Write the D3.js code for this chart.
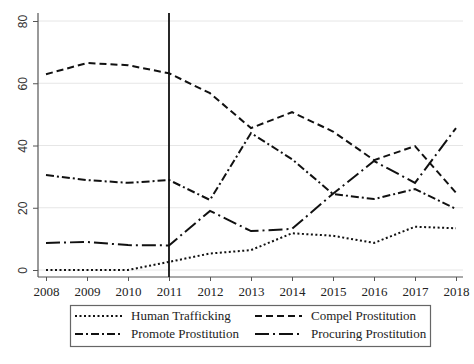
<!DOCTYPE html>
<html><head><meta charset="utf-8">
<script src="https://cdn.jsdelivr.net/npm/d3@7"></script>
<style>body{margin:0;background:#fff}svg{display:block}
.serif{font-family:"Liberation Serif","Times New Roman","DejaVu Serif",serif;}
.sans{font-family:"Liberation Sans",Arial,sans-serif;}
</style>
</head><body>
<svg id="c" width="474" height="364"></svg>
<script>
const years = [2008,2009,2010,2011,2012,2013,2014,2015,2016,2017,2018];
const humanTrafficking = [0,0,0,2.6,5.3,6.4,11.8,11,8.7,13.9,13.4];
const compelProstitution = [62.9,66.5,65.8,63.2,56.8,45.6,50.7,44.5,35.3,39.8,24.8];
const promoteProstitution = [30.5,28.9,28,28.9,22.5,44,35.6,24.4,22.8,26,19.6];
const procuringProstitution = [8.7,9,8,7.9,19,12.5,13.2,24.5,35,28,45.6];
const yTicks = [0,20,40,60,80];
const seriesNames = ["Human Trafficking","Compel Prostitution","Promote Prostitution","Procuring Prostitution"];
const dashes = ["2,2.5","7,4","8,3,2,3","14,4,2,4"];
const seriesData = [humanTrafficking, compelProstitution, promoteProstitution, procuringProstitution];
const policyYear = 2011;

(function(){
const svg = d3.select("#c");
const x = d3.scaleLinear().domain([2008,2018]).range([46,456]);
const y = d3.scaleLinear().domain([0,80]).range([270,21]);
const pLeft = 38, pBottom = 277, pTop = 13, pRight = 463;

svg.append("g").selectAll("line").data(yTicks).join("line")
  .attr("x1", pLeft).attr("x2", pRight)
  .attr("y1", d=>y(d)).attr("y2", d=>y(d))
  .attr("stroke","#e6e6e6").attr("stroke-width",1);

const yAx = svg.append("g").attr("transform",`translate(${pLeft},0)`)
  .call(d3.axisLeft(y).tickValues(yTicks).tickSize(5).tickPadding(4));
yAx.attr("font-family",null).attr("font-size",null);
yAx.select(".domain").remove();
yAx.append("line").attr("x1",0).attr("x2",0).attr("y1",pTop).attr("y2",pBottom).attr("stroke","#555").attr("stroke-width",1.2);
yAx.selectAll(".tick line").attr("stroke","#555");
yAx.selectAll(".tick text").attr("transform","rotate(-90)").attr("x",0).attr("y",-11)
  .attr("dy","0").attr("text-anchor","middle").attr("class","sans")
  .style("font-size","12px").attr("fill","#333");

const xAx = svg.append("g").attr("transform",`translate(0,${pBottom})`)
  .call(d3.axisBottom(x).tickValues(years).tickFormat(d3.format("d")).tickSize(4).tickPadding(6));
xAx.attr("font-family",null).attr("font-size",null);
xAx.select(".domain").remove();
xAx.append("line").attr("x1",pLeft).attr("x2",pRight).attr("y1",0).attr("y2",0).attr("stroke","#555").attr("stroke-width",1.2);
xAx.selectAll(".tick line").attr("stroke","#555");
xAx.selectAll(".tick text").attr("class","serif").style("font-size","13px").attr("fill","#222");

const line = d3.line().x((d,i)=>x(years[i])).y(d=>y(d));
seriesData.forEach((s,k)=>{
  svg.append("path").datum(s).attr("d",line).attr("fill","none")
    .attr("stroke","#111").attr("stroke-width",2).attr("stroke-dasharray",dashes[k]);
});

svg.append("line").attr("x1",x(policyYear)).attr("x2",x(policyYear)).attr("y1",pTop).attr("y2",pBottom)
  .attr("stroke","#111").attr("stroke-width",1.8);

const lg = svg.append("g");
lg.append("rect").attr("x",70.5).attr("y",305.5).attr("width",360).attr("height",41)
  .attr("fill","#fff").attr("stroke","#666").attr("stroke-width",1.2);
const pos = [[75,320],[255,320],[75,338],[255,338]];
seriesNames.forEach((n,k)=>{
  const [px,py] = pos[k];
  lg.append("line").attr("x1",px).attr("x2",px+47).attr("y1",py-4).attr("y2",py-4)
    .attr("stroke","#111").attr("stroke-width",2).attr("stroke-dasharray",dashes[k]);
  lg.append("text").attr("x",px+56).attr("y",py).text(n).attr("class","serif")
    .style("font-size","13px").attr("fill","#222");
});
})();
</script>
</body></html>
